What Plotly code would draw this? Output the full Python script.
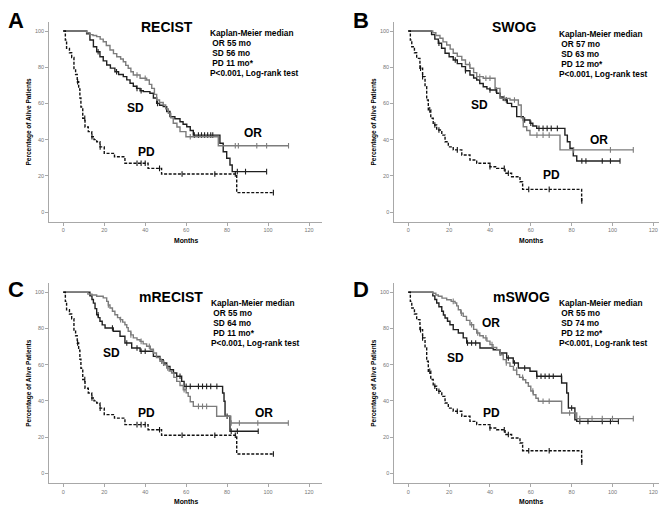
import numpy as np
import plotly.graph_objects as go

W, H = 659, 506

# ---------------- Data ----------------
# Panel A: RECIST
OR_A_t = [0, 11.5, 13, 14.5, 16.3, 18, 19.5, 21, 22.8, 24.5, 26.1, 28, 29.3, 30.5, 31.7, 33, 34.2, 37.5, 40.7, 42, 43.2, 44.5, 45.6, 47, 48.8, 50, 51.3, 52.5, 53.7, 55.5, 57, 59.9, 75.7]
OR_A_s = [100, 99, 98, 97.5, 96.9, 95.5, 94.1, 92, 89.5, 87.5, 85.8, 84.5, 83, 81, 79.4, 77.5, 75.7, 73.9, 72.9, 70.5, 68.3, 65, 61.9, 60.5, 59.1, 57, 54.5, 52, 49, 47, 44.4, 41.6, 36.6]
OR_A_end = 110
OR_A_cens = [36, 40, 62, 84, 85.5, 94.5, 99.3, 110]

SD_A_t = [0, 11.4, 13, 14.7, 16.3, 17.9, 19.5, 21.2, 23, 25.2, 27, 29.3, 31, 32.6, 34.2, 35.8, 37.5, 39.1, 42.3, 44, 45.6, 47, 48.8, 50.5, 52.1, 54.5, 57, 58.5, 60.3, 62, 63.5, 76.5, 78.1, 79.8, 81.4, 82.5]
SD_A_s = [100, 98.5, 95, 91.3, 88.5, 85.8, 83.5, 81.2, 79.5, 77.5, 76, 74.8, 73, 71.1, 69.5, 68.3, 67, 66.5, 65.6, 63, 60, 59, 58.2, 55.5, 52.7, 51.5, 49.9, 48.5, 47.1, 45, 42.5, 38, 33.3, 29.7, 26, 22.3]
SD_A_end = 99.3
SD_A_cens = [17, 26, 36, 38, 46, 64, 66, 67.5, 69, 70.5, 72, 73, 85, 89, 99.3]

PD_A_t = [0, 1, 1.6, 3, 4.1, 5.2, 6, 6.8, 7.5, 8.1, 8.6, 9.5, 10.6, 12.2, 13.9, 15, 16.3, 17.9, 20, 25, 30.1, 41.4, 48, 84.7]
PD_A_s = [100, 95, 90.4, 88, 85.4, 78.5, 76, 72, 68, 63, 58, 51.8, 47, 44.4, 41.6, 40, 38.8, 36, 32.4, 30.5, 26.9, 24.1, 21, 10.7]
PD_A_end = 102.6
PD_A_cens = [7, 10.5, 14, 18, 36, 38, 40, 47, 58, 74, 84, 102.6]

# Panel B: SWOG
OR_B_t = [0, 12, 13.5, 15.5, 17, 18.8, 20.5, 22, 24, 26.2, 28, 30.2, 32, 33.5, 36.7, 42.5, 44.9, 49.8, 53.9, 55.3, 56.3, 58, 59.6, 74.3]
OR_B_s = [100, 99, 97.5, 96, 94, 92.3, 90, 87.7, 86, 84, 81.5, 79.4, 77, 74.8, 73.9, 68.3, 62.8, 61.9, 59.1, 52, 47.1, 45, 42.5, 34.3]
OR_B_end = 110.2
OR_B_cens = [30, 35, 38, 40, 47, 52, 63, 66, 69, 81, 99, 110.2]

SD_B_t = [0, 11.4, 13, 14.7, 16.3, 18, 20, 22, 24, 26.2, 28, 30.2, 32, 33.5, 35, 36.7, 38.5, 40, 43.3, 45, 46.5, 48.5, 50.6, 53.1, 56.3, 59.6, 61, 62.9, 76.7, 77.9, 79.2, 80.8, 82.5]
SD_B_s = [100, 98, 95.5, 93.2, 90.5, 87.7, 85.8, 84, 82, 80.3, 78, 75.7, 74, 72.9, 71, 69.2, 68, 67.4, 65.6, 63.5, 61.9, 60, 58.2, 52.7, 50.8, 49, 47.5, 46.2, 42.5, 38.8, 35.2, 31, 28.2]
SD_B_end = 103.7
SD_B_cens = [15, 23, 28, 40, 43, 48, 57, 60, 64, 66, 68, 70, 73, 85, 87, 95, 99, 103.7]

PD_B_t = [0, 1, 1.7, 3, 4.1, 5.7, 7, 8.2, 9, 9.8, 11, 12.2, 13.9, 16.4, 18, 19.6, 22, 26.2, 30.2, 33.5, 40, 43.3, 47.4, 50.6, 54.7, 56, 84.9]
PD_B_s = [100, 95, 91.3, 88, 84.9, 79.4, 74.8, 69.2, 61.9, 56.4, 51.8, 48.1, 45.3, 42.5, 38.8, 36, 34.3, 31.5, 28.7, 26.9, 25, 24.1, 21.4, 19.5, 16.7, 12.5, 6.1]
PD_B_end = 85
PD_B_cens = [6, 7, 10.5, 13, 15, 24, 40, 47, 49, 59, 69, 85]

# Panel C: mRECIST
OR_C_t = [0, 12, 14, 16.3, 19.5, 21.2, 22, 22.8, 24, 25.2, 26.5, 27.7, 29, 30.1, 31, 31.7, 33, 34.2, 36, 37.5, 39, 40.7, 42.5, 44, 45.5, 47.2, 49, 50.5, 51.7, 52.9, 54, 55.4, 57, 58.6, 60, 61, 62, 63.5, 74.9, 81.8]
OR_C_s = [100, 99, 98.5, 97.8, 96.9, 95, 93, 91.3, 89.5, 87.6, 86, 84.9, 83.5, 82.1, 80.5, 78.5, 76.5, 74.8, 73.8, 72.9, 71.5, 70.2, 68.5, 66.5, 64, 61.9, 60, 58.2, 56.5, 55.4, 53, 50.8, 48.5, 46.2, 44.5, 42.5, 39.5, 37, 31.5, 27.8]
OR_C_end = 109.9
OR_C_cens = [22, 28, 33, 38, 42, 48, 51, 59, 66, 68, 70, 82, 86, 95, 109.9]

SD_C_t = [0, 13, 14, 14.7, 15.5, 16.3, 17.1, 17.9, 19, 20.4, 24.4, 27.7, 30.1, 33.4, 37.5, 44, 47.2, 48.8, 50.5, 52.1, 53.8, 55.4, 57.8, 59, 77.8, 78.5, 79, 81.4]
SD_C_s = [100, 98, 96, 94, 91, 87.6, 86, 84, 82, 80.3, 78.5, 75.7, 72, 69.2, 67.4, 64.6, 62.8, 60.9, 59, 57.2, 55.4, 53.6, 50.8, 48, 44.4, 39.8, 31.5, 23.2]
SD_C_end = 95.2
SD_C_cens = [17, 24, 31, 36, 38, 40, 49, 57, 60, 62, 66, 68, 70, 72, 75, 80, 82, 85, 95.2]

PD_C_t, PD_C_s, PD_C_end, PD_C_cens = PD_A_t, PD_A_s, PD_A_end, PD_A_cens

# Panel D: mSWOG
OR_D_t = [0, 12, 13.5, 14.7, 16.5, 18.8, 21, 22.9, 23.7, 24.5, 25.7, 26.9, 28.5, 30.2, 32, 33.5, 35, 36.7, 38.5, 40, 41.5, 43.3, 45, 46.5, 48, 49.8, 51.5, 53.1, 54.5, 56.3, 57.5, 58.8, 60, 61.2, 62.5, 63.7, 75.1, 82.5]
OR_D_s = [100, 99.5, 98.5, 97.8, 96.8, 95.9, 95, 94.1, 92.5, 90.4, 88.5, 86.7, 84.5, 82.1, 79.5, 77.5, 76, 74.8, 73, 71.1, 69.5, 68.3, 65.5, 62.8, 61, 59.1, 57, 54.5, 53, 51.7, 50, 48.1, 45.5, 43.4, 41.5, 39.8, 33.3, 30.2]
OR_D_end = 110.2
OR_D_cens = [22, 26, 31, 34, 38, 41, 48, 53, 56, 61, 66, 69, 79, 84, 90, 95, 100, 110.2]

SD_D_t = [0, 12, 13, 13.9, 15, 16.4, 17.2, 18, 19.2, 20.4, 22, 24.5, 26.9, 28.6, 35.1, 41.6, 44.9, 48.2, 51.4, 53.9, 59.6, 62.9, 75.1, 77.6, 78.4, 81.6, 82.5]
SD_D_s = [100, 98, 96, 94.1, 92, 89.5, 87.5, 85.8, 84, 82.1, 79.4, 77.5, 74.8, 72, 69.2, 68.3, 66.5, 63.7, 60.9, 58.2, 56.4, 53.6, 49.9, 44.4, 36.1, 29.6, 28.7]
SD_D_end = 102.9
SD_D_cens = [29, 31, 33, 45, 49, 52, 57, 63, 65, 67, 69, 71, 75, 80, 84, 88, 95, 99, 102.9]

PD_D_t, PD_D_s, PD_D_end, PD_D_cens = PD_B_t, PD_B_s, PD_B_end, PD_B_cens

panel_letters = ["A", "B", "C", "D"]
panel_titles = ["RECIST", "SWOG", "mRECIST", "mSWOG"]
medians = [("55", "56", "11"), ("57", "63", "12"), ("55", "64", "11"), ("55", "74", "12")]

x_ticks = [0, 20, 40, 60, 80, 100, 120]
y_ticks = [0, 20, 40, 60, 80, 100]

# ---------------- Figure ----------------
FONT = "Liberation Sans, Arial, sans-serif"
OR_COLOR = "#7c7c7c"
SD_COLOR = "#202020"
PD_COLOR = "#111111"
AX_COLOR = "#a8a8a8"

fig = go.Figure()

def step_value(t, s, c):
    i = np.searchsorted(np.asarray(t), c, side="right") - 1
    return np.asarray(s)[i]

def add_curve(t, s, end, cens, color, dash, axn):
    xa = "x" if axn == 1 else f"x{axn}"
    ya = "y" if axn == 1 else f"y{axn}"
    xs = list(t) + [end]
    ys = list(s) + [s[-1]]
    fig.add_trace(go.Scatter(x=xs, y=ys, mode="lines", line=dict(color=color, width=1.4, dash=dash, shape="hv"),
                             xaxis=xa, yaxis=ya, showlegend=False, hoverinfo="skip"))
    cy = [float(step_value(t, s, c)) for c in cens]
    fig.add_trace(go.Scatter(x=cens, y=cy, mode="markers",
                             marker=dict(symbol="line-ns", size=4, line=dict(color=color, width=1.1)),
                             xaxis=xa, yaxis=ya, showlegend=False, hoverinfo="skip"))

curves = [
    [(OR_A_t, OR_A_s, OR_A_end, OR_A_cens), (SD_A_t, SD_A_s, SD_A_end, SD_A_cens), (PD_A_t, PD_A_s, PD_A_end, PD_A_cens)],
    [(OR_B_t, OR_B_s, OR_B_end, OR_B_cens), (SD_B_t, SD_B_s, SD_B_end, SD_B_cens), (PD_B_t, PD_B_s, PD_B_end, PD_B_cens)],
    [(OR_C_t, OR_C_s, OR_C_end, OR_C_cens), (SD_C_t, SD_C_s, SD_C_end, SD_C_cens), (PD_C_t, PD_C_s, PD_C_end, PD_C_cens)],
    [(OR_D_t, OR_D_s, OR_D_end, OR_D_cens), (SD_D_t, SD_D_s, SD_D_end, SD_D_cens), (PD_D_t, PD_D_s, PD_D_end, PD_D_cens)],
]

for k, pc in enumerate(curves):
    axn = k + 1
    add_curve(*pc[1], SD_COLOR, "solid", axn)
    add_curve(*pc[0], OR_COLOR, "solid", axn)
    add_curve(*pc[2], PD_COLOR, "3px,1.6px", axn)

# axes geometry (pixels)
cols = [dict(ax0=49.3, zero=63.3, px_per=2.0475, right=321.7, mid=185.5),
        dict(ax0=394.3, zero=408.3, px_per=2.0417, right=659.0, mid=531.0)]
rows = [dict(top=21.7, zero=212.0, bottom=221.7), dict(top=283.0, zero=473.3, bottom=483.0)]
ypp = 1.81

layout = dict(width=W, height=H, margin=dict(l=0, r=0, t=0, b=0),
              paper_bgcolor="white", plot_bgcolor="white", showlegend=False)
for k in range(4):
    col = cols[k % 2]
    row = rows[k // 2]
    xr = [(col["ax0"] - col["zero"]) / col["px_per"], (col["right"] - col["zero"]) / col["px_per"]]
    yr = [(row["zero"] - row["bottom"]) / ypp, (row["zero"] - row["top"]) / ypp]
    sfx = "" if k == 0 else str(k + 1)
    layout["xaxis" + sfx] = dict(domain=[col["ax0"] / W, min(col["right"] / W, 1.0)], range=xr,
                                 anchor="y" + sfx, showgrid=False, zeroline=False, showline=True,
                                 linecolor=AX_COLOR, linewidth=1, ticks="outside", ticklen=3,
                                 tickcolor=AX_COLOR, tickvals=x_ticks,
                                 tickfont=dict(size=5.5, color="#777", family=FONT))
    layout["yaxis" + sfx] = dict(domain=[1 - row["bottom"] / H, 1 - row["top"] / H], range=yr,
                                 anchor="x" + sfx, showgrid=False, zeroline=False, showline=True,
                                 linecolor=AX_COLOR, linewidth=1, ticks="outside", ticklen=3,
                                 tickcolor=AX_COLOR, tickvals=y_ticks,
                                 tickfont=dict(size=5.5, color="#777", family=FONT))
fig.update_layout(**layout)

def ann(text, px, py, size, xanchor="center", yanchor="middle", angle=0, color="black"):
    fig.add_annotation(text=text, x=px / W, y=1 - py / H, xref="paper", yref="paper",
                       xanchor=xanchor, yanchor=yanchor, showarrow=False, textangle=angle,
                       font=dict(family=FONT, size=size, color=color))

letter_pos = [(16, 21), (361, 21), (16, 289), (361, 289)]
title_pos = [(166.5, 26.5), (514, 26.5), (170.5, 296.5), (521, 297)]
box_pos = [(208.3, 33.2), (556.7, 33.6), (209.3, 303), (557.3, 303)]
label_pos = [
    dict(OR=(252.5, 133), SD=(135, 108), PD=(146.5, 152)),
    dict(OR=(599, 140), SD=(479, 105), PD=(551, 175)),
    dict(OR=(264, 413), SD=(111, 353), PD=(146.5, 413)),
    dict(OR=(491, 323), SD=(455, 358), PD=(491.5, 413)),
]

for k in range(4):
    col = cols[k % 2]
    row = rows[k // 2]
    ann(f"<b>{panel_letters[k]}</b>", *letter_pos[k], 22)
    ann(f"<b>{panel_titles[k]}</b>", *title_pos[k], 14)
    bx, by = box_pos[k]
    orm, sdm, pdm = medians[k]
    lines = ["Kaplan-Meier median", f"&nbsp;OR {orm} mo", f"&nbsp;SD {sdm} mo", f"&nbsp;PD {pdm} mo*", "P<0.001, Log-rank test"]
    for i, ln in enumerate(lines):
        ann(f"<b>{ln}</b>", bx, by + 10 * i, 8.3, xanchor="left")
    for g in ["OR", "SD", "PD"]:
        ann(f"<b>{g}</b>", *label_pos[k][g], 12)
    ann("<b>Months</b>", col["mid"], row["bottom"] + 18.5, 6.8)
    ann("<b>Percentage of Alive Patients</b>", col["ax0"] - 20.5, (row["top"] + row["bottom"]) / 2, 6.5, angle=-90)

fig.write_html("out.html", config={"displayModeBar": False, "staticPlot": True},
               post_script="document.body.style.margin='0px';document.body.style.overflow='hidden';")
